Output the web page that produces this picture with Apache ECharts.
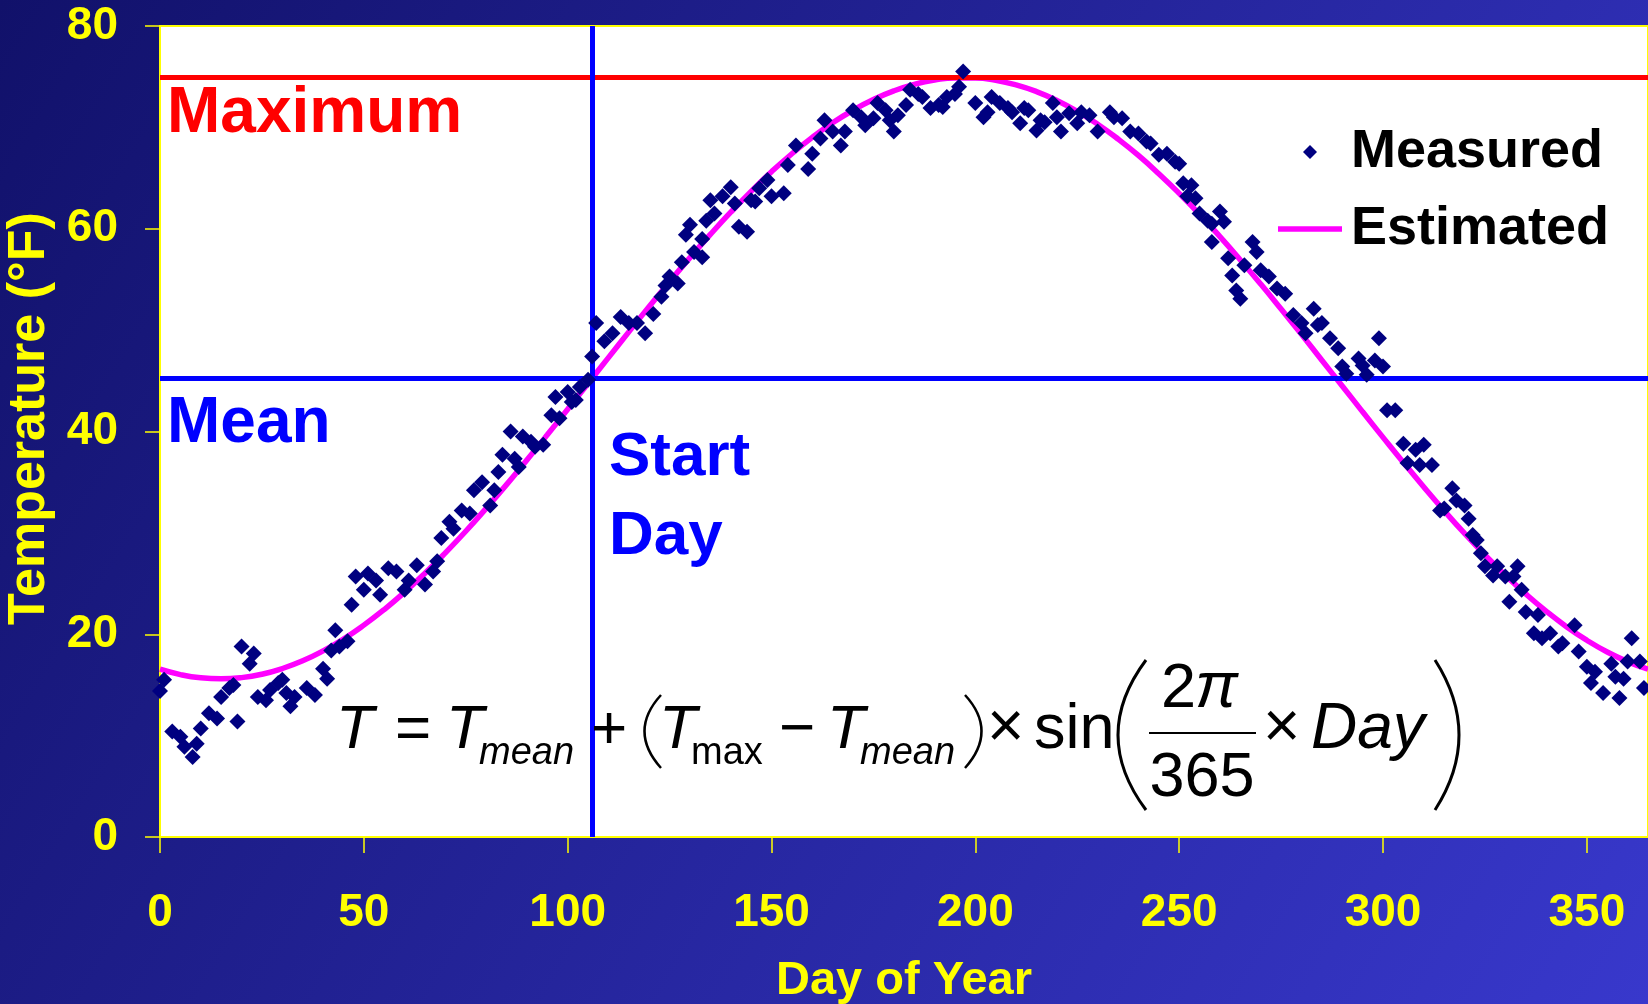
<!DOCTYPE html>
<html>
<head>
<meta charset="utf-8">
<script src="https://cdn.jsdelivr.net/npm/echarts@6/dist/echarts.min.js"></script>
<style>
html,body{margin:0;padding:0;width:1648px;height:1004px;overflow:hidden;}
#chart{width:1648px;height:1004px;}
</style>
</head>
<body>
<div id="chart"></div>
<script>
// ---- Data ----
const measuredDay = [0,1,3,5,6,8,9,10,12,14,15,17,18,19,20,22,23,24,26,27,29,30,31,32,33,36,38,40,41,42,43,44,46,47,48,50,51,53,54,56,58,60,61,63,65,67,68,69,71,72,74,76,77,79,81,82,83,84,86,87,88,89,91,92,94,96,97,98,100,101,102,103,105,106,107,109,111,113,115,117,119,121,123,124,125,127,128,129,130,131,133,133,134,135,136,138,140,141,142,144,145,146,147,149,150,153,154,156,159,160,162,163,165,167,168,170,172,173,175,176,178,179,180,181,183,184,186,187,189,191,192,193,195,196,197,200,202,203,204,206,208,209,211,212,213,215,216,217,219,220,221,223,225,226,228,230,233,234,236,238,240,242,243,245,247,249,250,251,252,253,254,255,257,258,258,260,261,262,263,264,265,266,268,269,270,272,274,276,278,280,281,283,284,285,287,289,290,291,294,295,296,298,299,300,301,303,305,306,308,309,310,312,314,315,317,318,320,321,322,323,324,325,327,328,330,331,332,333,334,335,337,338,339,341,343,344,347,348,350,351,352,354,356,357,358,359,360,361,363,364];
const measuredTemp = [14.4,15.5,10.4,9.9,8.9,7.9,9.2,10.7,12.2,11.7,13.8,14.7,15.0,11.4,18.8,17.1,18.1,13.8,13.5,14.5,15.2,15.5,14.2,12.9,13.8,14.7,14.0,16.6,15.6,18.4,20.4,18.8,19.3,22.9,25.7,24.4,26.0,25.3,23.9,26.5,26.2,24.4,25.3,26.8,24.9,26.2,27.2,29.5,31.1,30.4,32.2,31.9,34.2,35.0,32.7,34.2,36.0,37.7,40.0,37.3,36.5,39.5,39.0,38.5,38.7,41.6,43.4,41.3,43.9,42.9,43.1,44.4,45.1,47.4,50.7,48.9,49.7,51.3,50.7,50.7,49.7,51.6,53.3,54.4,55.3,54.6,56.7,59.4,60.4,57.7,57.2,59.0,60.8,62.8,61.5,63.2,64.1,62.5,60.2,59.7,62.8,62.7,64.0,64.8,63.2,63.5,66.3,68.2,65.9,67.4,68.9,70.7,69.6,68.2,69.6,71.7,71.0,70.2,70.9,72.4,71.7,70.7,69.6,71.2,72.2,73.7,73.3,73.0,71.9,72.2,72.0,73.0,73.3,74.0,75.5,72.4,71.0,71.5,73.0,72.4,71.9,71.5,70.4,71.9,71.7,69.7,70.7,70.5,72.4,71.0,69.6,71.4,70.4,71.5,71.2,69.6,71.5,71.0,70.9,69.6,69.4,68.6,68.4,67.3,67.4,66.6,66.4,64.5,63.2,64.3,63.0,61.5,60.8,60.5,58.7,61.7,60.7,57.1,55.4,53.9,53.1,56.4,58.7,57.7,55.9,55.3,54.1,53.6,51.5,50.7,49.7,52.1,50.5,50.7,49.2,48.2,46.4,45.7,47.2,46.5,45.6,47.0,49.2,46.4,42.1,42.1,38.8,36.9,38.2,36.7,38.7,36.7,32.2,32.4,34.4,33.2,32.7,31.4,29.8,29.3,28.0,26.7,25.8,26.7,25.7,23.2,25.7,26.7,24.4,22.2,20.1,21.9,19.6,20.1,18.8,19.1,20.9,18.3,16.8,15.2,16.3,14.2,17.1,15.8,13.7,15.6,17.3,19.6,17.3,14.7];

const estimatedDay = [0,5,10,15,20,25,30,35,40,45,50,55,60,65,70,75,80,85,90,95,100,105,110,115,120,125,130,135,140,145,150,155,160,165,170,175,180,185,190,195,200,205,210,215,220,225,230,235,240,245,250,255,260,265,270,275,280,285,290,295,300,305,310,315,320,325,330,335,340,345,350,355,360,365];
const estimatedTemp = [16.55,16.02,15.70,15.60,15.72,16.06,16.62,17.38,18.36,19.53,20.90,22.44,24.15,26.02,28.03,30.16,32.42,34.76,37.19,39.67,42.19,44.74,47.29,49.83,52.33,54.78,57.15,59.44,61.63,63.69,65.62,67.40,69.01,70.45,71.69,72.75,73.60,74.24,74.67,74.88,74.87,74.64,74.19,73.53,72.66,71.58,70.31,68.85,67.23,65.43,63.49,61.42,59.22,56.92,54.54,52.08,49.58,47.03,44.49,41.94,39.42,36.94,34.53,32.19,29.94,27.82,25.83,23.98,22.28,20.75,19.41,18.25,17.30,16.55];

const maxTemp = 74.9;
const meanTemp = 45.25;
const startDay = 106;

const xTicks = [0,50,100,150,200,250,300,350];
const yTicks = [0,20,40,60,80];

// ---- Build ----
const measured = measuredDay.map((d,i)=>[d, measuredTemp[i]]);
const estimated = estimatedDay.map((d,i)=>[d, estimatedTemp[i]]);

const FF = '"Liberation Sans", Arial, Helvetica, sans-serif';
const chart = echarts.init(document.getElementById('chart'));

function txt(x, baseline, text, size, opts) {
  opts = opts || {};
  const y = baseline - 0.3465 * size;
  return {
    type:'text', x:x, y:y, z:100, silent:true,
    style:{
      text:text,
      font:(opts.style||'') + ' ' + (opts.weight||'normal') + ' ' + size + 'px ' + FF,
      fill:opts.color||'#000',
      align:opts.align||'left', textAlign:opts.align||'left',
      verticalAlign:'middle', textVerticalAlign:'middle'
    }
  };
}
function curve(x1,y1,cx,cy,x2,y2,w) {
  return {type:'bezierCurve', z:100, silent:true,
    shape:{x1:x1,y1:y1,x2:x2,y2:y2,cpx1:cx,cpy1:cy},
    style:{stroke:'#000', lineWidth:w, fill:null}};
}

const option = {
  animation:false,
  backgroundColor:{type:'linear',x:0,y:0,x2:1,y2:1,colorStops:[{offset:0,color:'#11116a'},{offset:1,color:'#3838cc'}]},
  grid:{left:160, top:26, right:0, bottom:167, containLabel:false, outerBoundsMode:'none',
    show:true, backgroundColor:'#ffffff', borderColor:'#ffff00', borderWidth:2},
  xAxis:{
    type:'value', min:0, max:365, interval:50,
    name:'Day of Year', nameLocation:'middle', nameGap:121,
    nameTextStyle:{color:'#ffff00', fontSize:47, fontWeight:'bold', fontFamily:FF},
    axisLine:{show:true, lineStyle:{color:'#ffff00', width:2}},
    axisTick:{show:true, length:16, lineStyle:{color:'#ffff00', width:1.5}, customValues: xTicks},
    axisLabel:{color:'#ffff00', fontSize:46, fontWeight:'bold', fontFamily:FF, margin:53,
      customValues: xTicks},
    splitLine:{show:false}
  },
  yAxis:{
    type:'value', min:0, max:80, interval:20,
    name:'Temperature (°F)', nameLocation:'middle', nameGap:103,
    nameTextStyle:{color:'#ffff00', fontSize:52, fontWeight:'bold', fontFamily:FF, padding:[0,0,0,26]},
    axisLine:{show:true, lineStyle:{color:'#ffff00', width:2}},
    axisTick:{show:true, length:15, lineStyle:{color:'#ffff00', width:1.5}, customValues: yTicks},
    axisLabel:{color:'#ffff00', fontSize:46, fontWeight:'bold', fontFamily:FF, margin:42, customValues: yTicks},
    splitLine:{show:false}
  },
  legend:{
    orient:'vertical', left:1273, top:120, itemWidth:64, itemHeight:14, itemGap:23,
    symbolKeepAspect:true, selectedMode:false,
    textStyle:{color:'#000', fontSize:54, fontWeight:'bold', fontFamily:FF, padding:[0,0,0,4]},
    data:[
      {name:'Measured', icon:'path://M0,-10L10,0L0,10L-10,0Z', itemStyle:{color:'#000080', borderWidth:0}},
      {name:'Estimated', icon:'path://M0,0H64V5.5H0Z', itemStyle:{color:'#ff00ff', borderWidth:0}}
    ]
  },
  series:[
    {
      name:'Estimated', type:'line', data:estimated, smooth:true, showSymbol:false, symbol:'none',
      lineStyle:{color:'#ff00ff', width:5.5}, itemStyle:{color:'#ff00ff'}, z:2,
      markLine:{
        silent:true, symbol:['none','none'], label:{show:false}, animation:false,
        lineStyle:{width:5, type:'solid'},
        data:[
          {yAxis:maxTemp, lineStyle:{color:'#ff0000', width:5, type:'solid'}},
          {yAxis:meanTemp, lineStyle:{color:'#0000ff', width:5, type:'solid'}},
          {xAxis:startDay, lineStyle:{color:'#0000ff', width:5, type:'solid'}}
        ]
      }
    },
    {
      name:'Measured', type:'scatter', data:measured, symbol:'diamond', symbolSize:16,
      itemStyle:{color:'#000080', opacity:1}, z:5
    }
  ],
  graphic:[
    txt(167, 137, 'Maximum', 64, {weight:'bold', color:'#ff0000'}),
    txt(167, 447, 'Mean', 64, {weight:'bold', color:'#0000ff'}),
    txt(609, 479, 'Start', 62, {weight:'bold', color:'#0000ff'}),
    txt(609, 558, 'Day', 62, {weight:'bold', color:'#0000ff'}),
    // formula
    txt(336, 752, 'T', 62, {style:'italic'}),
    txt(395, 752, '=', 62),
    txt(446, 752, 'T', 62, {style:'italic'}),
    txt(479, 767, 'mean', 38, {style:'italic'}),
    txt(591, 752, '+', 62),
    curve(661,695,628,731,661,768,2.5),
    txt(659, 752, 'T', 62, {style:'italic'}),
    txt(691, 767, 'max', 38),
    txt(779, 752, '\u2212', 62),
    txt(827, 752, 'T', 62, {style:'italic'}),
    txt(860, 767, 'mean', 38, {style:'italic'}),
    curve(965,695,998,731,965,768,2.5),
    txt(987, 752, '\u00d7', 64),
    txt(1034, 752, 'sin', 63),
    curve(1146,660,1090,735,1146,810,3),
    txt(1161, 711, '2', 63),
    txt(1195, 711, '\u03c0', 64, {style:'italic'}),
    {type:'line', z:100, silent:true, shape:{x1:1149,y1:733,x2:1256,y2:733}, style:{stroke:'#000', lineWidth:2}},
    txt(1202, 800, '365', 63, {align:'center'}),
    txt(1263, 752, '\u00d7', 64),
    txt(1311, 752, 'Day', 64, {style:'italic'}),
    curve(1435,660,1483,735,1435,810,3)
  ]
};
chart.setOption(option);
</script>
</body>
</html>
